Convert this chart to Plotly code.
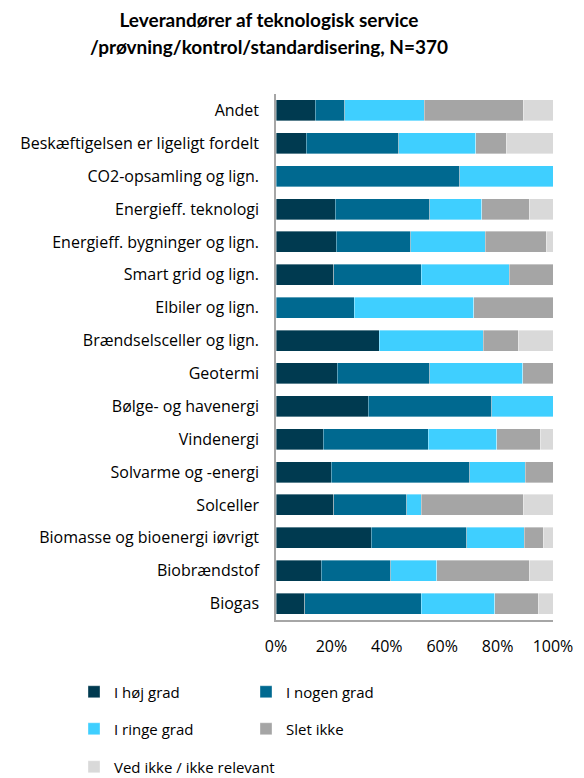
import plotly.graph_objects as go

categories = [
    "Andet",
    "Beskæftigelsen er ligeligt fordelt",
    "CO2-opsamling og lign.",
    "Energieff. teknologi",
    "Energieff. bygninger og lign.",
    "Smart grid og lign.",
    "Elbiler og lign.",
    "Brændselsceller og lign.",
    "Geotermi",
    "Bølge- og havenergi",
    "Vindenergi",
    "Solvarme og -energi",
    "Solceller",
    "Biomasse og bioenergi iøvrigt",
    "Biobrændstof",
    "Biogas",
]

hoej_grad = [14.2, 10.9, 0.0, 21.4, 21.7, 20.9, 0.0, 37.3, 22.1, 33.3, 17.0, 19.9, 20.9, 34.3, 16.4, 10.4]
nogen_grad = [10.6, 33.4, 66.4, 34.1, 26.9, 31.6, 28.3, 0.0, 33.4, 44.5, 38.0, 50.0, 26.3, 34.5, 25.0, 42.1]
ringe_grad = [28.7, 27.8, 33.6, 18.8, 26.9, 31.7, 43.1, 37.6, 33.5, 22.2, 24.7, 20.0, 5.3, 20.8, 16.7, 26.5]
slet_ikke = [35.8, 11.1, 0.0, 17.2, 22.1, 15.8, 28.6, 12.5, 11.0, 0.0, 15.7, 10.1, 36.8, 6.9, 33.4, 15.7]
ved_ikke = [10.7, 16.8, 0.0, 8.5, 2.4, 0.0, 0.0, 12.6, 0.0, 0.0, 4.6, 0.0, 10.7, 3.5, 8.5, 5.3]

series_names = ["I høj grad", "I nogen grad", "I ringe grad", "Slet ikke", "Ved ikke / ikke relevant"]
series_values = [hoej_grad, nogen_grad, ringe_grad, slet_ikke, ved_ikke]
series_colors = ["#003A50", "#006990", "#3FCFFF", "#A5A5A5", "#D9D9D9"]

x_ticks = [0, 20, 40, 60, 80, 100]
x_tick_labels = ["0%", "20%", "40%", "60%", "80%", "100%"]

title_line1 = "Leverandører af teknologisk service"
title_line2 = "/prøvning/kontrol/standardisering, N=370"

FONT = "Open Sans"
TITLE_FONT = "Lato"
# page body has an 8px margin; figure drawn inside it
W, H = 576, 770

# legend positions (pixels in figure): two columns, three rows
legend_pos = [(66, 684), (238, 684), (66, 721), (238, 721), (66, 759)]
legend_keys = ["legend", "legend2", "legend3", "legend4", "legend5"]

fig = go.Figure()
for name, vals, col, lk in zip(series_names, series_values, series_colors, legend_keys):
    fig.add_trace(go.Bar(
        y=categories, x=vals, name=name, orientation="h",
        marker=dict(color=col, line=dict(color="rgba(255,255,255,0.6)", width=0.6)),
        legend=lk, showlegend=True,
    ))

layout_legends = {}
for lk, (px, py) in zip(legend_keys, legend_pos):
    layout_legends[lk] = dict(
        xref="container", yref="container",
        x=px / W, y=1 - py / H, xanchor="left", yanchor="middle",
        font=dict(family=FONT, size=15, color="#000000"),
        bgcolor="rgba(0,0,0,0)", borderwidth=0,
    )

fig.update_layout(
    width=W, height=H,
    barmode="stack", bargap=0.36,
    plot_bgcolor="white", paper_bgcolor="white",
    showlegend=True,
    margin=dict(l=268, r=31, t=86, b=158, autoexpand=False),
    title=dict(
        text="<b>" + title_line1 + "</b>",
        x=261 / W, xanchor="center", xref="container",
        y=1 - 12 / H, yanchor="middle", yref="container",
        font=dict(family=TITLE_FONT, size=19, color="#000000"),
    ),
    font=dict(family=FONT, size=15, color="#000000"),
    **layout_legends,
)
fig.add_annotation(
    text="<b>" + title_line2 + "</b>",
    xref="paper", yref="paper",
    x=(261 - 268) / (W - 268 - 31), y=1 + (86 - 39) / (H - 86 - 158),
    xanchor="center", yanchor="middle", showarrow=False,
    font=dict(family=TITLE_FONT, size=19, color="#000000"),
)

fig.update_xaxes(
    range=[0, 100], tickvals=x_ticks, ticktext=x_tick_labels,
    showgrid=False, zeroline=False,
    showline=True, linecolor="#A6A6A6", linewidth=1.5,
    ticks="outside", ticklen=11, tickcolor="rgba(0,0,0,0)",
    tickfont=dict(family=FONT, size=16, color="#000000"),
)
fig.update_yaxes(
    autorange="reversed", showgrid=False, zeroline=False,
    showline=True, linecolor="#A6A6A6", linewidth=1.5,
    ticks="outside", ticklen=12, tickcolor="rgba(0,0,0,0)",
    tickfont=dict(family=FONT, size=16, color="#000000"),
)

fig.write_html("out.html")
